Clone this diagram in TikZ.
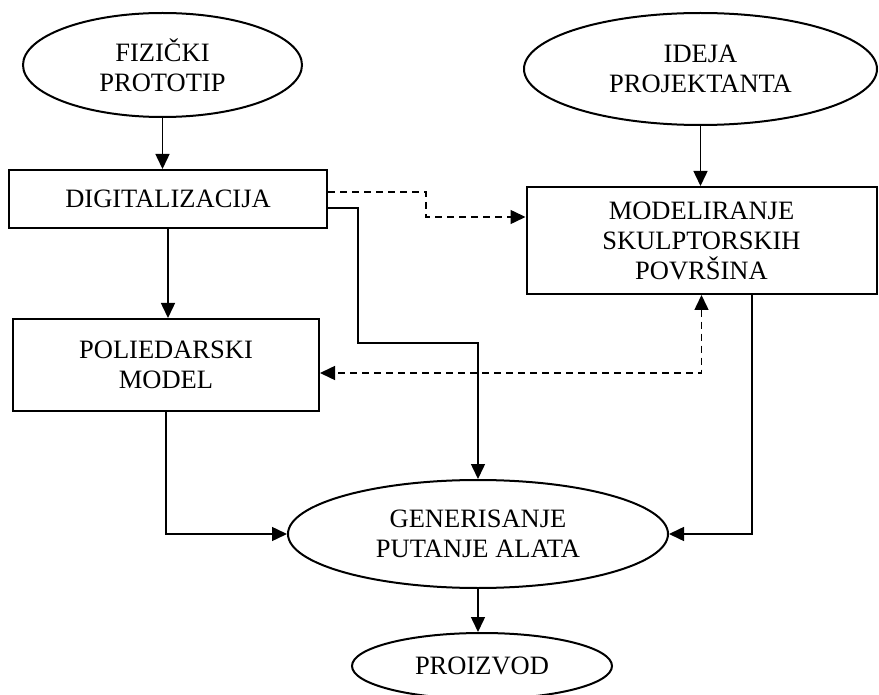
\documentclass[tikz,border=0pt]{standalone}
\usepackage{fontspec}
\setmainfont{Liberation Serif}
\usetikzlibrary{shapes.geometric,arrows.meta}
\begin{document}
\begin{tikzpicture}[x=1pt,y=-1pt,
  txt/.style={font=\fontsize{26.5}{30}\selectfont, align=center, inner sep=0pt},
  ell/.style={txt, draw, ellipse, line width=2pt},
  box/.style={txt, draw, rectangle, line width=2pt},
  arr/.style={line width=1.5pt, -{Triangle[length=15pt,width=14pt]}},
  darr/.style={line width=1.5pt, dash pattern=on 7pt off 5pt, -{Triangle[length=15pt,width=14pt]}},
  dboth/.style={line width=1.5pt, dash pattern=on 7pt off 5pt, {Triangle[length=15pt,width=14pt]}-{Triangle[length=15pt,width=14pt]}}]
\useasboundingbox (0,0) rectangle (879,695);
\node[ell, minimum width=279pt, minimum height=104pt] (fiz) at (162.5,65) {FIZIČKI\\PROTOTIP};
\node[ell, minimum width=353pt, minimum height=112pt] (ide) at (700.5,69) {IDEJA\\PROJEKTANTA};
\node[box, minimum width=318pt, minimum height=58pt] (dig) at (168,199) {DIGITALIZACIJA};
\node[box, minimum width=350pt, minimum height=107pt] (mod) at (701.5,240.5) {MODELIRANJE\\SKULPTORSKIH\\POVRŠINA};
\node[box, minimum width=306pt, minimum height=92pt] (pol) at (166,365) {POLIEDARSKI\\MODEL};
\node[ell, minimum width=380pt, minimum height=108pt] (gen) at (478,534) {GENERISANJE\\PUTANJE ALATA};
\node[ell, minimum width=260pt, minimum height=66pt] (pro) at (482,666) {PROIZVOD};
\coordinate (d1) at (426,192);
\coordinate (c1) at (358,343);
\coordinate (c2) at (752,294);
\draw[arr] (fiz.south) -- (fiz.south |- dig.north);
\draw[arr] (ide.south) -- (ide.south |- mod.north);
\draw[arr] (dig.south) -- (dig.south |- pol.north);
\draw[darr] ([yshift=7pt]dig.east) -- (d1) |- ([yshift=23.5pt]mod.west);
\draw[arr] ([yshift=-9pt]dig.east) -| (c1) -| (gen.north);
\draw[dboth] (mod.south) |- ([yshift=-8pt]pol.east);
\draw[arr] (pol.south) |- (gen.west);
\draw[arr] (c2) |- (gen.east);
\draw[arr] (gen.south) -- (gen.south |- pro.north);
\end{tikzpicture}
\end{document}
